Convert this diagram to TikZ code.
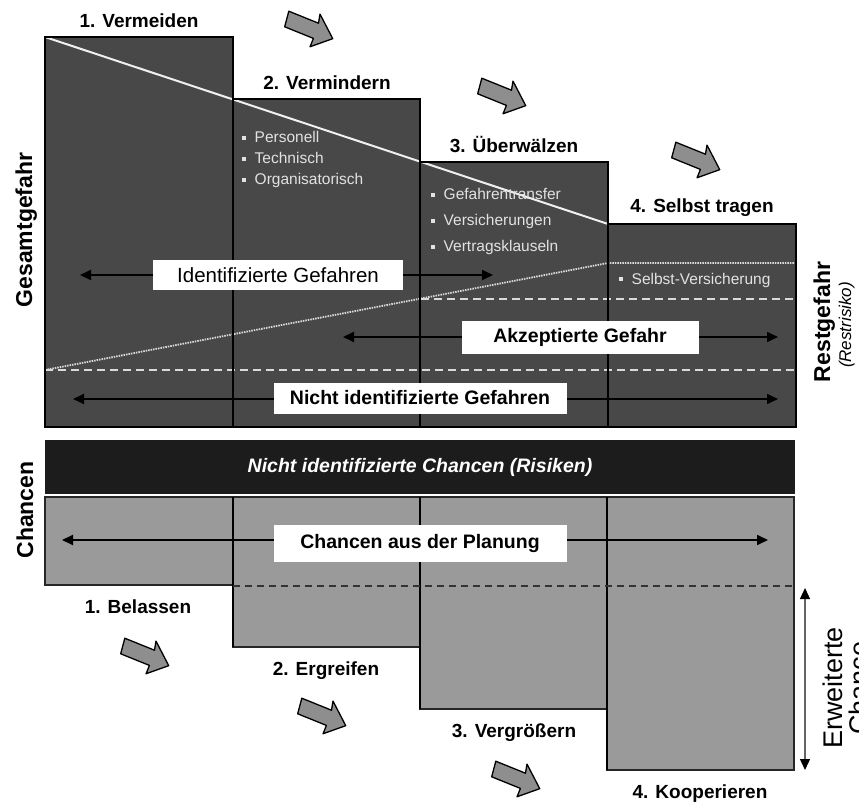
\documentclass[tikz,border=0pt]{standalone}
\usepackage{fontspec}
\setmainfont{Liberation Sans}
\usetikzlibrary{arrows.meta}

\definecolor{riskgray}{HTML}{484848}
\definecolor{chancegray}{HTML}{9A9A9A}
\definecolor{barblack}{HTML}{1C1C1C}
\definecolor{arrowgray}{HTML}{8E8E8E}
\definecolor{itemgray}{HTML}{E2E2E2}
\definecolor{lineligh}{HTML}{DADADA}

\tikzset{
  riskfill/.style={fill=riskgray},
  riskedge/.style={draw=black, line width=1.6pt},
  chancecol/.style={fill=chancegray, draw=black!85, line width=1.3pt},
  steplabel/.style={font=\fontsize{19}{22}\selectfont\bfseries, anchor=base, inner sep=0pt},
  bandbox/.style={fill=white, inner sep=0pt, font=\fontsize{19.5}{22}\selectfont\bfseries},
  spanarrow/.style={{Triangle[length=11pt,width=10pt]}-{Triangle[length=11pt,width=10pt]}, line width=1.8pt},
  itemtext/.style={font=\fontsize{15.5}{18}\selectfont, text=itemgray, anchor=west, inner sep=0pt,
                   text height=11pt, text depth=3pt},
  sidelabel/.style={rotate=90, anchor=base, inner sep=0pt},
  slopeline/.style={draw=white!94!black, line width=2pt},
  dotline/.style={draw=lineligh, line width=1.8pt, dash pattern=on 1.5pt off 1pt},
  dashline/.style={draw=lineligh, line width=2.4pt, dash pattern=on 8pt off 5pt},
  flowarrow/.pic={
    \draw[fill=arrowgray, line width=1.3pt, line join=round]
      (-25,-8) -- (7,-8) -- (5,-17) -- (26,1) -- (8,17) -- (8,8) -- (-23,8) -- cycle;
  }
}

\newcommand{\sqbullet}{{\color{itemgray}\rule[3pt]{3.5pt}{3.5pt}}\hspace{9pt}}

\begin{document}
\begin{tikzpicture}[x=1pt,y=-1pt]
\useasboundingbox (0,0) rectangle (859,802);

% ---------- Gefahren: stepped columns ----------
\fill[riskfill] (45,37) rectangle (233,427);
\fill[riskfill] (233,99) rectangle (420,427);
\fill[riskfill] (420,162) rectangle (608,427);
\fill[riskfill] (608,224) rectangle (796,427);

% total hazard slope and residual boundaries
\coordinate (slopeA) at (45,37);
\coordinate (slopeB) at (608,224);
\draw[slopeline] (slopeA) -- (slopeB);

\coordinate (dotA) at (45,370);
\coordinate (dotB) at (608,263);
\coordinate (dotC) at (796,263);
\draw[dotline] (dotA) -- (dotB) -- (dotC);

\coordinate (dashAW) at (45,370);
\coordinate (dashAE) at (796,370);
\draw[dashline] (dashAW) -- (dashAE);
\coordinate (dashBW) at (421,299);
\coordinate (dashBE) at (796,299);
\draw[dashline] (dashBW) -- (dashBE);

% column outlines on top
\draw[riskedge] (45,37) rectangle (233,427);
\draw[riskedge] (233,99) rectangle (420,427);
\draw[riskedge] (420,162) rectangle (608,427);
\draw[riskedge] (608,224) rectangle (796,427);

% step titles
\node[steplabel] (s1) at (139,28) {1. Vermeiden};
\node[steplabel] (s2) at (327,90) {2. Vermindern};
\node[steplabel] (s3) at (514,153) {3. Überwälzen};
\node[steplabel] (s4) at (702,213) {4. Selbst tragen};

% measure lists
\node[itemtext] (i21) at (242,139) {\sqbullet Personell};
\node[itemtext] (i22) at (242,160) {\sqbullet Technisch};
\node[itemtext] (i23) at (242,181) {\sqbullet Organisatorisch};
\node[itemtext] (i31) at (431,196) {\sqbullet Gefahrentransfer};
\node[itemtext] (i32) at (431,222) {\sqbullet Versicherungen};
\node[itemtext] (i33) at (431,248) {\sqbullet Vertragsklauseln};
\node[itemtext] (i41) at (619,280) {\sqbullet Selbst-Versicherung};

% span arrows with labels
\coordinate (idW) at (80,275);
\coordinate (idE) at (493,275);
\draw[spanarrow] (idW) -- (idE);
\node[bandbox, font=\fontsize{20.5}{22}\selectfont, minimum width=250pt, minimum height=30pt] (idlab) at (278,275) {Identifizierte Gefahren};

\coordinate (akW) at (343,337);
\coordinate (akE) at (778,337);
\draw[spanarrow] (akW) -- (akE);
\node[bandbox, minimum width=237pt, minimum height=33pt] (aklab) at (580,337) {Akzeptierte Gefahr};

\coordinate (niW) at (73,399);
\coordinate (niE) at (778,399);
\draw[spanarrow] (niW) -- (niE);
\node[bandbox, minimum width=293pt, minimum height=31pt] (nilab) at (420,398) {Nicht identifizierte Gefahren};

% ---------- Chancen ----------
\fill[barblack] (45,440) rectangle (795,494);
\node[font=\fontsize{19.5}{22}\selectfont\bfseries\itshape, text=white, inner sep=0pt] (ncl) at (420,467) {Nicht identifizierte Chancen (Risiken)};

\draw[chancecol] (45,497) rectangle (233,585);
\draw[chancecol] (233,497) rectangle (420,647);
\draw[chancecol] (420,497) rectangle (607,709);
\draw[chancecol] (607,497) rectangle (794,770);
\draw[line width=1.8pt] (233,497) -- (233,647);
\draw[line width=1.8pt] (420,497) -- (420,709);
\draw[line width=1.8pt] (607,497) -- (607,770);

\coordinate (cdW) at (233,586);
\coordinate (cdE) at (796,586);
\draw[line width=1.6pt, draw=black!80, dash pattern=on 7pt off 5pt] (cdW) -- (cdE);

\coordinate (cpW) at (62,540);
\coordinate (cpE) at (768,540);
\draw[spanarrow] (cpW) -- (cpE);
\node[bandbox, minimum width=293pt, minimum height=37pt] (cplab) at (420,543) {Chancen aus der Planung};

\node[steplabel] (b1) at (138,613) {1. Belassen};
\node[steplabel] (b2) at (326,675) {2. Ergreifen};
\node[steplabel] (b3) at (514,737) {3. Vergrößern};
\node[steplabel] (b4) at (700,798) {4. Kooperieren};

% extended chance range
\coordinate (exT) at (805,588);
\coordinate (exB) at (805,770);
\draw[draw=black!60, line width=1.2pt, {Triangle[length=11pt,width=10pt,color=black]}-{Triangle[length=11pt,width=10pt,color=black]}] (exT) -- (exB);

% ---------- side captions ----------
\node[sidelabel, font=\fontsize{23}{26}\selectfont\bfseries] (gesamt) at (32,230) {Gesamtgefahr};
\node[sidelabel, font=\fontsize{23}{26}\selectfont\bfseries] (chancen) at (33,510) {Chancen};
\node[sidelabel, font=\fontsize{23}{26}\selectfont\bfseries] (rest) at (830,322) {Restgefahr};
\node[sidelabel, font=\fontsize{17}{20}\selectfont\itshape] (restr) at (851,325) {(Restrisiko)};
\node[sidelabel, font=\fontsize{27}{30}\selectfont] (erw) at (842,688) {Erweiterte};
\node[sidelabel, font=\fontsize{27}{30}\selectfont] (chc) at (868,688) {Chance};

% ---------- process arrows ----------
\pic[rotate=-22] at (309,28) {flowarrow};
\pic[rotate=-22] at (502,95) {flowarrow};
\pic[rotate=-22] at (696,159) {flowarrow};
\pic[rotate=-22] at (145,655) {flowarrow};
\pic[rotate=-22] at (322,715) {flowarrow};
\pic[rotate=-22] at (516,778) {flowarrow};
\end{tikzpicture}
\end{document}
